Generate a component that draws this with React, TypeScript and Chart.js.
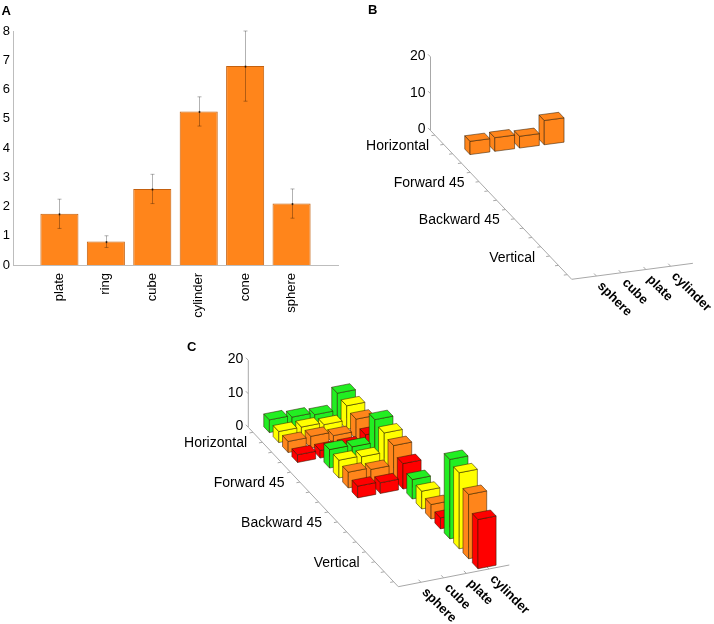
import { useEffect, useRef } from "react"
import { Chart, registerables } from "chart.js"

Chart.register(...registerables)

const FONT = '"Liberation Sans", Arial, Helvetica, sans-serif'
const AXIS_GRAY = "#a8a8a8"
const ORANGE = "#ff851b"

// panel A: mean counts per shape with error bars
const shapes = ["plate", "ring", "cube", "cylinder", "cone", "sphere"]
const shapeMeans = [1.75, 0.8, 2.6, 5.25, 6.8, 2.1]
const shapeErrors = [0.5, 0.2, 0.5, 0.5, 1.2, 0.5]

// panels B and C
const objects = ["sphere", "cube", "plate", "cylinder"]
const orientations = ["Horizontal", "Forward 45", "Backward 45", "Vertical"]
const zTicks = [0, 10, 20]

// B: one row only (Horizontal)
const horizontalCounts = [3.6, 3.7, 3.2, 6.6]

// C: rows = orientation, columns = object
const greenCounts = [
  [3.8, 3.3, 2.7, 7.8],
  [0, 5.5, 5.0, 11.8],
  [0, 0, 0, 5.8],
  [0, 0, 0, 23.7],
]
const yellowCounts = [
  [3.3, 3.3, 2.7, 7.0],
  [0, 5.3, 5.0, 10.8],
  [0, 0, 0, 5.3],
  [0, 0, 0, 22.7],
]
const orangeCounts = [
  [3.3, 3.5, 2.4, 6.0],
  [0, 4.7, 4.2, 10.0],
  [0, 0, 0, 4.3],
  [0, 0, 0, 19.2],
]
const redCounts = [
  [2.3, 2.3, 2.3, 4.3],
  [0, 3.5, 3.2, 7.6],
  [0, 0, 0, 3.3],
  [0, 0, 0, 14.7],
]

type Vec = [number, number]
type View = { o: Vec; ax: Vec; ay: Vec; az: Vec; letter: string; letterAt: Vec; depthShift: Vec }

const viewB: View = {
  o: [430.5, 130.5],
  ax: [121.2, -16],
  ay: [141.2, 148.8],
  az: [0, -73.6],
  letter: "B",
  letterAt: [368, 13.5],
  depthShift: [-19, -3],
}
const viewC: View = {
  o: [248.3, 427.3],
  ax: [111, -21.7],
  ay: [150, 159.4],
  az: [0, -67],
  letter: "C",
  letterAt: [187, 350.5],
  depthShift: [-20, -4],
}

// slot along the depth axis: 4 per orientation, one per colour
const slot = (orientation: number, colour: number) => orientation * 4 + colour + 0.5

function cells(counts: number[][], colour: number) {
  const out: { x: number; y: number; v: number }[] = []
  counts.forEach((row, o) =>
    row.forEach((v, j) => out.push({ x: j + 1, y: slot(o, colour), v }))
  )
  return out
}

function bar3d(view: View) {
  return {
    id: "bar3d",
    afterDatasetsDraw(chart: any) {
      const ctx: CanvasRenderingContext2D = chart.ctx
      const xs = chart.scales.x
      const ys = chart.scales.y
      const zs = chart.scales.z
      const fx = (v: number) => (xs.getPixelForValue(v) - xs.left) / (xs.right - xs.left)
      const fy = (v: number) => (ys.bottom - ys.getPixelForValue(v)) / (ys.bottom - ys.top)
      const fz = (v: number) => (zs.bottom - zs.getPixelForValue(v)) / (zs.bottom - zs.top)
      const P = (X: number, Y: number, Z: number): Vec => {
        const a = fx(X), b = fy(Y), c = fz(Z)
        return [
          view.o[0] + a * view.ax[0] + b * view.ay[0] + c * view.az[0],
          view.o[1] + a * view.ax[1] + b * view.ay[1] + c * view.az[1],
        ]
      }
      const unit = (v: Vec): Vec => {
        const l = Math.hypot(v[0], v[1])
        return [v[0] / l, v[1] / l]
      }
      const ux = unit(view.ax)
      const uy = unit(view.ay)
      const line = (a: Vec, b: Vec) => {
        ctx.beginPath()
        ctx.moveTo(a[0], a[1])
        ctx.lineTo(b[0], b[1])
        ctx.stroke()
      }
      const xMax = xs.max, yMax = ys.max, zMax = zs.max

      ctx.save()
      // axes
      ctx.strokeStyle = AXIS_GRAY
      ctx.lineWidth = 1
      line(P(0, 0, 0), P(0, 0, zMax))
      line(P(0, 0, 0), P(0, yMax, 0))
      line(P(0, yMax, 0), P(xMax, yMax, 0))
      zTicks.forEach((z) => {
        const p = P(0, 0, z)
        line(p, [p[0] - uy[0] * 3.5, p[1] - uy[1] * 3.5])
      })
      for (let k = 0; k < 16; k++) {
        const p = P(0, k + 0.5, 0)
        line(p, [p[0] - ux[0] * 3.5, p[1] - ux[1] * 3.5])
      }
      objects.forEach((_, j) => {
        const p = P(j + 1, yMax, 0)
        line(p, [p[0] - uy[0] * 3.5, p[1] - uy[1] * 3.5])
      })

      // bars, back to front
      const boxes: { x: number; y: number; v: number; color: string }[] = []
      chart.data.datasets.forEach((ds: any) =>
        ds.data.forEach((d: any) => {
          if (d.v > 0) boxes.push({ ...d, color: ds.backgroundColor })
        })
      )
      boxes.sort((a, b) => a.y - b.y || b.x - a.x)
      const face = (pts: Vec[], color: string) => {
        ctx.beginPath()
        ctx.moveTo(pts[0][0], pts[0][1])
        for (let i = 1; i < pts.length; i++) ctx.lineTo(pts[i][0], pts[i][1])
        ctx.closePath()
        ctx.fillStyle = color
        ctx.fill()
        ctx.stroke()
      }
      ctx.strokeStyle = "rgba(45,25,0,0.75)"
      ctx.lineWidth = 0.7
      ctx.lineJoin = "round"
      boxes.forEach((b) => {
        const x0 = b.x - 0.4, x1 = b.x + 0.4
        const y0 = b.y - 0.3, y1 = b.y + 0.3
        const h = b.v
        face([P(x0, y0, 0), P(x0, y1, 0), P(x0, y1, h), P(x0, y0, h)], b.color)
        face([P(x0, y1, 0), P(x1, y1, 0), P(x1, y1, h), P(x0, y1, h)], b.color)
        face([P(x0, y0, h), P(x1, y0, h), P(x1, y1, h), P(x0, y1, h)], b.color)
      })

      // labels
      ctx.fillStyle = "#000"
      ctx.font = `14px ${FONT}`
      ctx.textAlign = "right"
      ctx.textBaseline = "middle"
      zTicks.forEach((z) => {
        const p = P(0, 0, z)
        ctx.fillText(String(z), p[0] - 5, p[1] - 1)
      })
      orientations.forEach((name, o) => {
        const p = P(0, o * 4 + 2, 0)
        ctx.fillText(name, p[0] + view.depthShift[0], p[1] + view.depthShift[1])
      })
      ctx.font = `bold 13px ${FONT}`
      ctx.textAlign = "left"
      objects.forEach((name, j) => {
        const p = P(j + 1, yMax, 0)
        ctx.save()
        ctx.translate(p[0] + 3, p[1] + 8)
        ctx.rotate(Math.PI / 4)
        ctx.fillText(name, 0, 0)
        ctx.restore()
      })
      ctx.textBaseline = "alphabetic"
      ctx.fillText(view.letter, view.letterAt[0], view.letterAt[1])
      ctx.restore()
    },
  }
}

function scales3d() {
  return {
    x: { type: "linear", min: 0, max: 4.9, display: false },
    y: { type: "linear", min: 0, max: 16, display: false },
    z: { type: "linear", axis: "y", min: 0, max: 20, display: false },
  } as any
}

const errorBars = {
  id: "errorBars",
  afterDatasetsDraw(chart: any) {
    const ctx: CanvasRenderingContext2D = chart.ctx
    const meta = chart.getDatasetMeta(0)
    const yScale = chart.scales.y
    ctx.save()
    shapeMeans.forEach((m, i) => {
      const bar = meta.data[i + 1]
      const x = Math.round(bar.x) + 0.5
      const top = yScale.getPixelForValue(m + shapeErrors[i])
      const bot = yScale.getPixelForValue(m - shapeErrors[i])
      ctx.strokeStyle = "rgba(0,0,0,0.3)"
      ctx.lineWidth = 1
      ctx.beginPath()
      ctx.moveTo(x, top)
      ctx.lineTo(x, bot)
      ctx.moveTo(x - 2, top)
      ctx.lineTo(x + 2, top)
      ctx.moveTo(x - 2, bot)
      ctx.lineTo(x + 2, bot)
      ctx.stroke()
      ctx.fillStyle = "rgba(0,0,0,0.75)"
      ctx.fillRect(x - 0.8, yScale.getPixelForValue(m) - 0.5, 1.6, 2)
    })
    ctx.fillStyle = "#000"
    ctx.font = `bold 13px ${FONT}`
    ctx.textAlign = "left"
    ctx.textBaseline = "alphabetic"
    ctx.fillText("A", 1.5, 15)
    ctx.restore()
  },
}

export default function App() {
  const aRef = useRef<HTMLCanvasElement>(null)
  const bRef = useRef<HTMLCanvasElement>(null)
  const cRef = useRef<HTMLCanvasElement>(null)

  useEffect(() => {
    if (!aRef.current || !bRef.current || !cRef.current) return

    const chartA = new Chart(aRef.current, {
      type: "bar",
      data: {
        labels: ["", ...shapes, ""],
        datasets: [
          {
            data: [null, ...shapeMeans, null],
            backgroundColor: ORANGE,
            borderColor: "#c4600e",
            borderWidth: 1,
            categoryPercentage: 0.82,
            barPercentage: 1,
          },
        ],
      },
      options: {
        responsive: false,
        animation: false,
        events: [],
        layout: { padding: { top: 31, right: 12, left: 0, bottom: 0 } },
        plugins: { legend: { display: false }, tooltip: { enabled: false } },
        scales: {
          x: {
            type: "category",
            offset: false,
            grid: { display: false, drawTicks: false },
            border: { color: "#bdbdbd" },
            ticks: {
              autoSkip: false,
              minRotation: 90,
              maxRotation: 90,
              padding: 8,
              color: "#000",
              font: { family: FONT, size: 13 },
            },
            afterFit: (s: any) => {
              s.height = 65
              s.paddingLeft = 0
              s.paddingRight = 0
            },
          },
          y: {
            min: 0,
            max: 8,
            grid: { display: false, drawTicks: false },
            border: { color: "#bdbdbd" },
            ticks: { stepSize: 1, padding: 3, color: "#000", font: { family: FONT, size: 13 } },
            afterFit: (s: any) => {
              s.width = 13
            },
          },
        },
      } as any,
      plugins: [errorBars],
    })

    const chartB = new Chart(bRef.current, {
      type: "scatter",
      data: {
        datasets: [
          {
            data: horizontalCounts.map((v, j) => ({ x: j + 1, y: slot(0, 2), v })),
            backgroundColor: ORANGE,
            pointRadius: 0,
          },
        ],
      },
      options: {
        responsive: false,
        animation: false,
        events: [],
        layout: { padding: 0 },
        plugins: { legend: { display: false }, tooltip: { enabled: false } },
        scales: scales3d(),
      } as any,
      plugins: [bar3d(viewB)],
    })

    const chartC = new Chart(cRef.current, {
      type: "scatter",
      data: {
        datasets: [
          { data: cells(greenCounts, 0), backgroundColor: "#22ee22", pointRadius: 0 },
          { data: cells(yellowCounts, 1), backgroundColor: "#ffff00", pointRadius: 0 },
          { data: cells(orangeCounts, 2), backgroundColor: ORANGE, pointRadius: 0 },
          { data: cells(redCounts, 3), backgroundColor: "#ff0000", pointRadius: 0 },
        ],
      },
      options: {
        responsive: false,
        animation: false,
        events: [],
        layout: { padding: 0 },
        plugins: { legend: { display: false }, tooltip: { enabled: false } },
        scales: scales3d(),
      } as any,
      plugins: [bar3d(viewC)],
    })

    return () => {
      chartA.destroy()
      chartB.destroy()
      chartC.destroy()
    }
  }, [])

  return (
    <div style={{ position: "absolute", left: 0, top: 0, width: 714, height: 624, background: "#fff" }}>
      <canvas ref={aRef} width={350} height={330} style={{ position: "absolute", left: 0, top: 0 }} />
      <canvas ref={bRef} width={714} height={624} style={{ position: "absolute", left: 0, top: 0 }} />
      <canvas ref={cRef} width={714} height={624} style={{ position: "absolute", left: 0, top: 0 }} />
    </div>
  )
}
